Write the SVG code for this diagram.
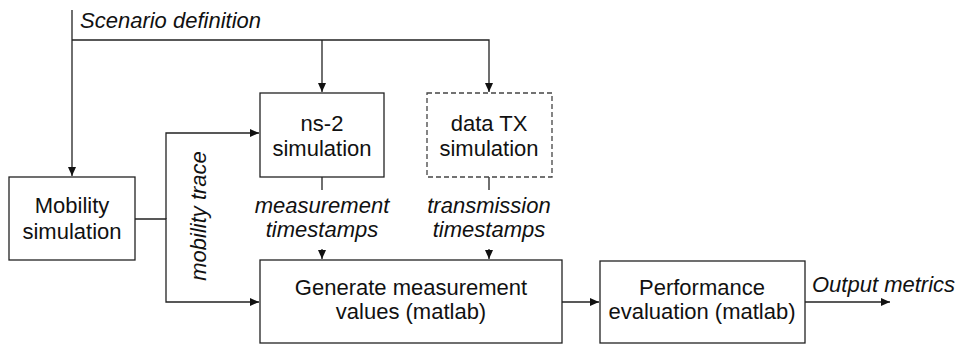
<svg xmlns="http://www.w3.org/2000/svg" width="963" height="345" viewBox="0 0 963 345">
<style>
.box{fill:#fff;stroke:#222;stroke-width:1.3}
.dash{stroke-dasharray:5 3;stroke:#444}
.ln{fill:none;stroke:#222;stroke-width:1.3}
.t{font-family:"Liberation Sans",Arial,sans-serif;font-size:22px;fill:#111;text-anchor:middle}
.i{font-family:"Liberation Sans",Arial,sans-serif;font-size:22px;fill:#111;font-style:italic}
</style>
<defs>
<marker id="ah" markerWidth="10" markerHeight="10" refX="9" refY="5" orient="auto" markerUnits="userSpaceOnUse">
<path d="M0,1 L9,5 L0,9 Z" fill="#111"/>
</marker>
</defs>
<rect width="963" height="345" fill="#fff"/>
<g id="connectors">
<path class="ln" d="M72,10 V176" marker-end="url(#ah)"/>
<path class="ln" d="M72,40 H489 V92" marker-end="url(#ah)"/>
<path class="ln" d="M322,40 V92" marker-end="url(#ah)"/>
<path class="ln" d="M135,219 H166 V302 H259" marker-end="url(#ah)"/>
<path class="ln" d="M166,219 V133 H259" marker-end="url(#ah)"/>
<path class="ln" d="M322,177 V190"/>
<path class="ln" d="M322,249 V259" marker-end="url(#ah)"/>
<path class="ln" d="M489,177 V190"/>
<path class="ln" d="M489,249 V259" marker-end="url(#ah)"/>
<path class="ln" d="M562,302 H599" marker-end="url(#ah)"/>
<path class="ln" d="M805,302 H890" marker-end="url(#ah)"/>
<text class="i" x="80" y="28">Scenario definition</text>
<text class="i" x="0" y="0" text-anchor="middle" transform="translate(206,216) rotate(-90)">mobility trace</text>
<text class="i" x="322" y="213" text-anchor="middle">measurement</text>
<text class="i" x="322" y="237" text-anchor="middle">timestamps</text>
<text class="i" x="489" y="213" text-anchor="middle">transmission</text>
<text class="i" x="489" y="237" text-anchor="middle">timestamps</text>
<text class="i" x="812" y="292">Output metrics</text>
</g>
<g id="mobility">
<rect class="box" x="9" y="177" width="126" height="83"/>
<text class="t" x="72" y="213">Mobility</text>
<text class="t" x="72" y="239">simulation</text>
</g>
<g id="ns2">
<rect class="box" x="260" y="93" width="124" height="84"/>
<text class="t" x="322" y="131">ns-2</text>
<text class="t" x="322" y="156">simulation</text>
</g>
<g id="datatx">
<rect class="box dash" x="427" y="93" width="125" height="84"/>
<text class="t" x="489" y="131">data TX</text>
<text class="t" x="489" y="156">simulation</text>
</g>
<g id="generate">
<rect class="box" x="260" y="260" width="302" height="83"/>
<text class="t" x="411" y="295">Generate measurement</text>
<text class="t" x="411" y="319">values (matlab)</text>
</g>
<g id="performance">
<rect class="box" x="600" y="261" width="205" height="82"/>
<text class="t" x="702" y="295">Performance</text>
<text class="t" x="702" y="319">evaluation (matlab)</text>
</g>
</svg>
